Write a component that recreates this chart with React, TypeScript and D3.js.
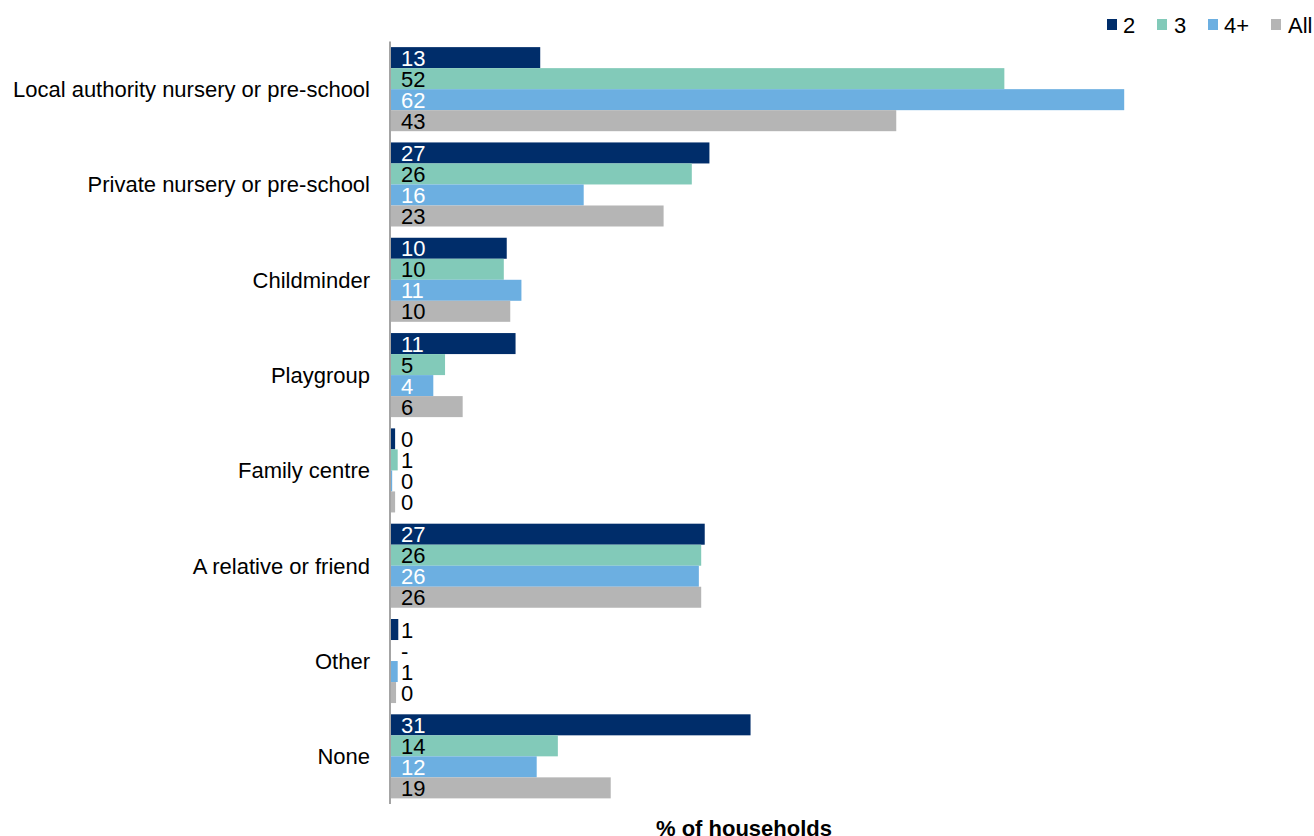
import React from "react";
import * as d3 from "d3";

const categories = [
  "Local authority nursery or pre-school",
  "Private nursery or pre-school",
  "Childminder",
  "Playgroup",
  "Family centre",
  "A relative or friend",
  "Other",
  "None",
];
const seriesNames = ["2", "3", "4+", "All"];
const values2 = [12.7, 27.1, 9.85, 10.6, 0.35, 26.7, 0.62, 30.6];
const values3: (number | null)[] = [52.2, 25.6, 9.6, 4.6, 0.57, 26.4, null, 14.2];
const values4 = [62.4, 16.4, 11.1, 3.6, 0.1, 26.2, 0.57, 12.4];
const valuesAll = [43.0, 23.2, 10.15, 6.1, 0.35, 26.4, 0.43, 18.7];
const axisTitle = "% of households";

const colors = ["#002D6A", "#82CAB9", "#6CAFE1", "#B5B5B5"];
const insideText = ["#FFFFFF", "#000000", "#FFFFFF", "#000000"];
const FONT = "'Liberation Sans', Arial, Helvetica, sans-serif";

export default function App() {
  const W = 1314;
  const H = 836;
  const axisX = 390;
  const x = d3.scaleLinear().domain([0, 70]).range([axisX + 1, axisX + 1 + 70 * 11.75]);
  const y = d3
    .scaleBand<string>()
    .domain(categories)
    .range([41.5, 804])
    .paddingInner(0.118)
    .paddingOuter(0.059);
  const inner = d3.scaleBand<string>().domain(seriesNames).range([0, y.bandwidth()]);
  const all = [values2, values3, values4, valuesAll];

  const legendPos = [
    { sx: 1107, tx: 1123 },
    { sx: 1157, tx: 1174 },
    { sx: 1208, tx: 1224 },
    { sx: 1271, tx: 1288 },
  ];

  return (
    <svg
      width={W}
      height={H}
      style={{ position: "absolute", left: 0, top: 0, background: "#fff" }}
      fontFamily={FONT}
    >
      {categories.map((c, ci) => {
        const gy = y(c)!;
        return (
          <g key={c}>
            <text
              x={370}
              y={gy + y.bandwidth() / 2 + 8}
              textAnchor="end"
              fontSize={22}
              fill="#000"
            >
              {c}
            </text>
            {seriesNames.map((s, si) => {
              const v = all[si][ci];
              const by = gy + inner(s)!;
              const bh = inner.bandwidth();
              const w = v == null ? 0 : x(v) - x(0);
              const label = v == null ? "-" : String(Math.round(v));
              const color = w > 30 ? insideText[si] : "#000";
              return (
                <g key={s}>
                  {v != null && (
                    <rect x={x(0)} y={by} width={w} height={bh} fill={colors[si]} />
                  )}
                  <text x={401} y={by + bh / 2 + 8} fontSize={22} fill={color}>
                    {label}
                  </text>
                </g>
              );
            })}
          </g>
        );
      })}
      <line x1={axisX} x2={axisX} y1={41.5} y2={804} stroke="#868686" strokeWidth={1.5} />
      {seriesNames.map((s, si) => (
        <g key={s}>
          <rect x={legendPos[si].sx} y={19} width={10} height={11} fill={colors[si]} />
          <text x={legendPos[si].tx} y={32.5} fontSize={22} fill="#000">
            {s}
          </text>
        </g>
      ))}
      <text x={744} y={835.5} textAnchor="middle" fontSize={22} fontWeight="bold" fill="#000">
        {axisTitle}
      </text>
    </svg>
  );
}
